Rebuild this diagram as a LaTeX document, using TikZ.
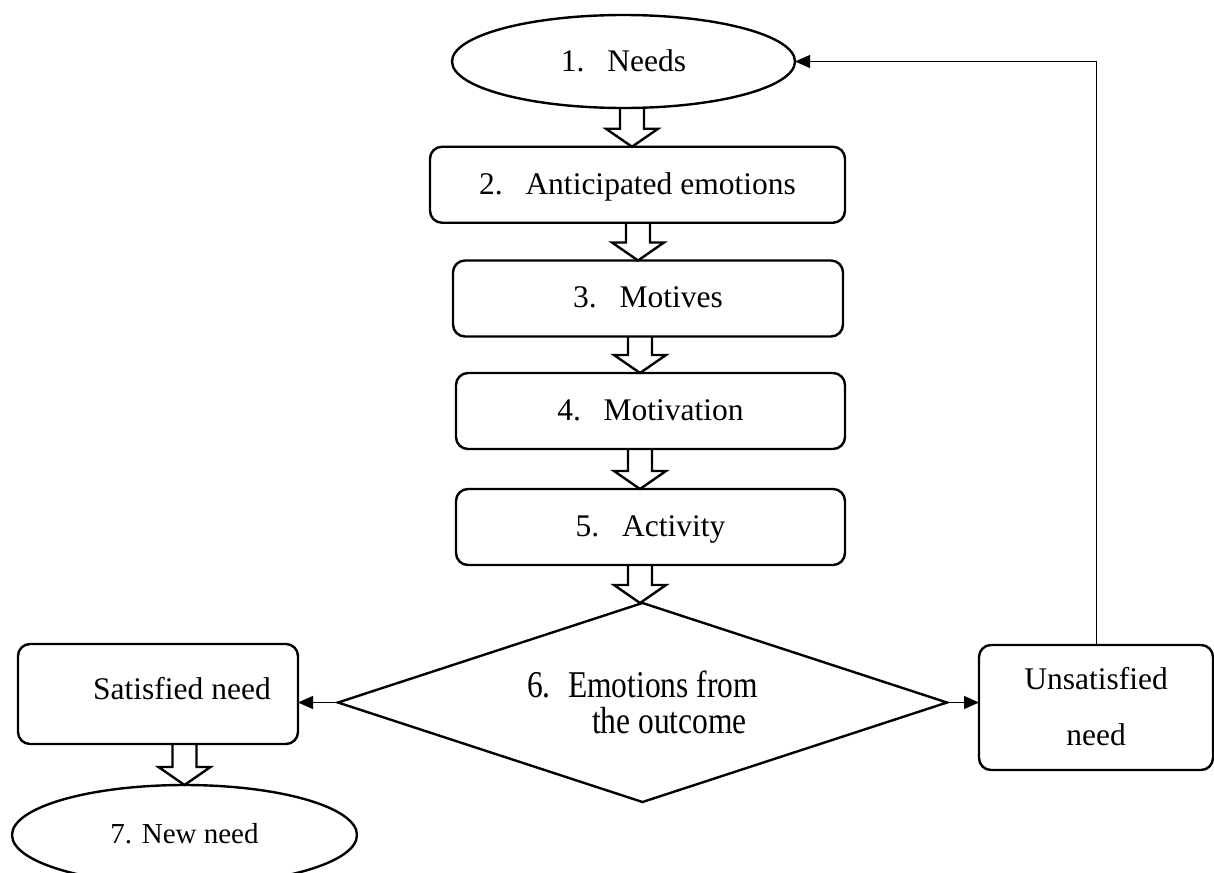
\documentclass[tikz,border=0pt]{standalone}
\usepackage{fontspec}
\setmainfont{Liberation Serif}
\usetikzlibrary{positioning,arrows.meta,shapes.geometric,calc}
\tikzset{
  flowarrow/.style={-{Triangle[length=15pt, width=13pt]}, line width=1.2pt},
  neednode/.style={draw, ellipse, line width=2.4pt, inner sep=0pt, outer sep=0pt, align=center, text depth=0.22em},
  stagebox/.style={draw, rounded corners=12pt, line width=2.4pt, inner sep=0pt, outer sep=0pt, minimum width=389pt, minimum height=76pt, align=center, text depth=0.22em},
  decisionnode/.style={draw, diamond, line width=2.4pt, aspect=3.06, inner sep=0pt, outer sep=0pt, minimum width=609pt, minimum height=199pt},
  blockarrow/.style={draw, line width=2.4pt, line join=miter}
}
\newcommand{\stepgap}{\hspace{0.72em}}
% hollow arrow from #1 down to #2, moved sideways by #3
\newcommand{\hollowarrow}[3]{%
  \draw[blockarrow] ($(#2|-#1)+(#3-12,0)$) -- ($(#2)+(#3-12,-18)$) -- ($(#2)+(#3-26,-18)$)
    -- ($(#2)+(#3,0)$) -- ($(#2)+(#3+26,-18)$) -- ($(#2)+(#3+12,-18)$) -- ($(#2|-#1)+(#3+12,0)$);}

\begin{document}
\begin{tikzpicture}[x=1pt, y=-1pt, font=\fontsize{31.5}{37.8}\selectfont]
  \useasboundingbox (0,0) rectangle (1214,872);
  \node[neednode, minimum width=343pt, minimum height=93pt] (needs) at (623.5,61.5) {1.\stepgap Needs};
  \node[stagebox, minimum width=415pt] (antic) at (637.5,184.75) {2.\stepgap Anticipated emotions};
  \node[stagebox, minimum width=390pt] (motives) at (648,298.5) {3.\stepgap Motives};
  \node[stagebox] (motivation) at (650.5,411) {4.\stepgap Motivation};
  \node[stagebox] (activity) at (650.5,527) {5.\stepgap Activity};
  \node[decisionnode] (outcome) at (642.5,702.5) {\scalebox{1}[1.2]{\vbox{\baselineskip=30pt
    \hbox{6.\hspace{0.55em}Emotions from}\hbox{\hspace{65pt}the outcome}}}};
  \node[stagebox, minimum width=280pt, minimum height=100pt] (satisfied) at (158,694) {\hspace*{48pt}\raisebox{9pt}{Satisfied need}};
  \node[stagebox, minimum width=234pt, minimum height=125pt, font=\fontsize{31.5}{55}\selectfont] (unsat) at (1096,707.5) {Unsatisfied\\need};
  \node[neednode, minimum width=345pt, minimum height=100pt, font=\fontsize{29}{35}\selectfont] (newneed) at (184.5,835) {7. New need};

  \hollowarrow{needs.south}{antic.north}{-5.5}
  \hollowarrow{antic.south}{motives.north}{-10}
  \hollowarrow{motives.south}{motivation.north}{-10.5}
  \hollowarrow{motivation.south}{activity.north}{-10.5}
  \hollowarrow{activity.south}{outcome.north}{-2.5}
  \hollowarrow{satisfied.south}{newneed.north}{0}

  \draw[flowarrow] (outcome.west) -- (outcome.west -| satisfied.east);
  \draw[flowarrow] (outcome.east) -- (outcome.east -| unsat.west);
  \draw[flowarrow, line width=1pt] (unsat.north) |- (needs.east);
\end{tikzpicture}
\end{document}
